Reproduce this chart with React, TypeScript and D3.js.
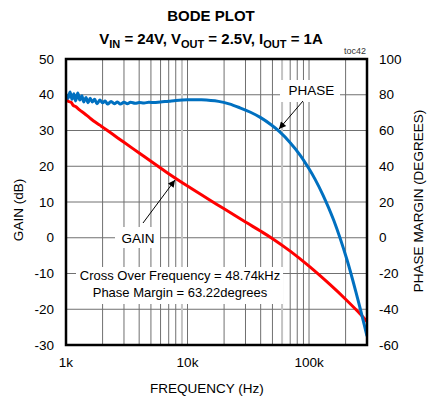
import React from "react";
import * as d3 from "d3";

const gainFreqK = [1, 1.05, 1.1, 1.15, 1.2, 1.3, 1.4, 1.5, 1.6, 1.75, 1.9, 2, 2.3, 2.6, 3, 4, 5, 7, 10, 15, 20, 30, 39.5, 48.74, 70, 100, 150, 200, 250, 300];
const gainDb = [38.8, 38.1, 37.9, 37.0, 36.7, 35.7, 34.9, 34.1, 33.3, 32.3, 31.5, 30.95, 29.5, 28.2, 26.7, 23.7, 21.4, 17.9, 14.45, 10.7, 8.1, 4.4, 1.95, 0, -3.75, -7.95, -13.2, -17.2, -20.5, -23.4];

const phaseFreqK = [1.0, 1.04, 1.08, 1.12, 1.16, 1.2, 1.25, 1.3, 1.35, 1.4, 1.46, 1.52, 1.58, 1.65, 1.72, 1.8, 1.9, 2.0, 2.1, 2.2, 2.35, 2.5, 2.65, 2.8, 3.0, 3.2, 3.4, 3.7, 4.0, 4.4, 4.8, 5.3, 6, 7, 8, 10, 13, 18, 22, 27, 33, 40, 48.74, 56.6, 70, 85, 100, 112, 130, 160, 205, 250, 275, 300];
const phaseDeg = [80.5, 78, 81.5, 77.5, 80.5, 76.5, 81, 77, 79.5, 76, 78.5, 75.5, 78, 76, 77.5, 75, 77, 75.5, 76.5, 74.8, 76.2, 75, 76, 74.8, 75.8, 75, 75.8, 75.2, 75.6, 75.4, 75.8, 75.6, 76, 76.4, 76.8, 77.2, 77.2, 76.3, 74.9, 72.7, 70.2, 67.2, 63.22, 59.6, 53.2, 46.0, 38.6, 32.8, 24.0, 9.6, -12.2, -33.5, -44.5, -55];

const gainTicks = [50, 40, 30, 20, 10, 0, -10, -20, -30];
const phaseTicks = [100, 80, 60, 40, 20, 0, -20, -40, -60];
const freqTickValues = [1000, 10000, 100000];
const freqTickLabels = ["1k", "10k", "100k"];

const FONT = "'Liberation Sans', Arial, sans-serif";

export default function App() {
  const L = 66, R = 367, T = 59, B = 345;
  const x = d3.scaleLog().domain([1000, 300000]).range([L, R]);
  const yG = d3.scaleLinear().domain([-30, 50]).range([B, T]);
  const yP = d3.scaleLinear().domain([-60, 100]).range([B, T]);

  const gainPts: [number, number][] = gainFreqK.map((f, i) => [f * 1000, gainDb[i]]);
  const phasePts: [number, number][] = phaseFreqK.map((f, i) => [f * 1000, phaseDeg[i]]);
  const curve = d3.curveCatmullRom.alpha(0.5);
  const gainLine = d3.line<[number, number]>().x(d => x(d[0])).y(d => yG(d[1])).curve(curve)(gainPts) || "";
  const phaseLine = d3.line<[number, number]>().x(d => x(d[0])).y(d => yP(d[1])).curve(curve)(phasePts) || "";

  const vLines: number[] = [];
  for (let dec = 1000; dec <= 100000; dec *= 10) {
    for (let m = 1; m <= 9; m++) {
      const f = dec * m;
      if (f > 1000 && f < 300000) vLines.push(f);
    }
  }
  const lightLines = [9000, 60000];

  return (
    <svg width={436} height={401} style={{ position: "absolute", left: 0, top: 0, background: "#fff" }} fontFamily={FONT}>
      <defs>
        <clipPath id="plot">
          <rect x={L} y={T} width={R - L} height={B - T} />
        </clipPath>
        <marker id="ah" viewBox="0 0 10 10" refX="10" refY="5" markerWidth="9" markerHeight="7" orient="auto" markerUnits="userSpaceOnUse">
          <path d="M0,0 L10,5 L0,10 z" fill="#000" />
        </marker>
      </defs>
      <rect x={0} y={0} width={436} height={401} fill="#fff" />
      {gainTicks.map(g => (
        <line key={"h" + g} x1={L} x2={R} y1={yG(g)} y2={yG(g)} stroke="#707070" strokeWidth={1} />
      ))}
      {vLines.map(f => (
        <line key={"v" + f} x1={x(f)} x2={x(f)} y1={T} y2={B}
          stroke={lightLines.includes(f) ? "#c4c4c4" : "#707070"}
          strokeWidth={lightLines.includes(f) ? 2 : 1} />
      ))}
      <rect x={115} y={227} width={45} height={21} fill="#fff" />
      <rect x={280} y={80} width={60} height={22} fill="#fff" />
      <rect x={76} y={267} width={207} height={37} fill="#fff" />
      <g clipPath="url(#plot)">
        <path d={gainLine} fill="none" stroke="#ff0000" strokeWidth={3} strokeLinejoin="round" />
        <path d={phaseLine} fill="none" stroke="#0070c0" strokeWidth={3} strokeLinejoin="round" />
      </g>
      <rect x={L} y={T} width={R - L} height={B - T} fill="none" stroke="#000" strokeWidth={2.5} />
      {gainTicks.map(g => (
        <text key={"gl" + g} x={54} y={yG(g)} dy="0.35em" textAnchor="end" fontSize={13.5}>{g}</text>
      ))}
      {phaseTicks.map(p => (
        <text key={"pl" + p} x={379} y={yP(p)} dy="0.35em" textAnchor="start" fontSize={13.5}>{p}</text>
      ))}
      {freqTickValues.map((f, i) => (
        <text key={"fl" + f} x={x(f)} y={367} textAnchor="middle" fontSize={13.5}>{freqTickLabels[i]}</text>
      ))}
      <text x={207} y={393} textAnchor="middle" fontSize={13.5}>FREQUENCY (Hz)</text>
      <text transform="translate(23,210) rotate(-90)" textAnchor="middle" fontSize={13.5}>GAIN (dB)</text>
      <text transform="translate(423,201) rotate(-90)" textAnchor="middle" fontSize={13.5}>PHASE MARGIN (DEGREES)</text>
      <text x={211} y={21} textAnchor="middle" fontSize={15} fontWeight="bold">BODE PLOT</text>
      <text x={211} y={44} textAnchor="middle" fontSize={15} fontWeight="bold">
        <tspan>V</tspan><tspan fontSize={11} dy={4}>IN</tspan>
        <tspan dy={-4}> = 24V, V</tspan><tspan fontSize={11} dy={4}>OUT</tspan>
        <tspan dy={-4}> = 2.5V, I</tspan><tspan fontSize={11} dy={4}>OUT</tspan>
        <tspan dy={-4}> = 1A</tspan>
      </text>
      <text x={366} y={54} textAnchor="end" fontSize={9} fill="#333">toc42</text>
      <text x={138} y={243} textAnchor="middle" fontSize={13.5}>GAIN</text>
      <line x1={143} y1={223} x2={175} y2={180} stroke="#000" strokeWidth={1} markerEnd="url(#ah)" />
      <text x={311.5} y={95} textAnchor="middle" fontSize={13.5}>PHASE</text>
      <line x1={303} y1={101} x2={279} y2={129} stroke="#000" strokeWidth={1} markerEnd="url(#ah)" />
      <text x={180} y={280} textAnchor="middle" fontSize={13}>Cross Over Frequency = 48.74kHz</text>
      <text x={180} y={297} textAnchor="middle" fontSize={13}>Phase Margin = 63.22degrees</text>
    </svg>
  );
}
